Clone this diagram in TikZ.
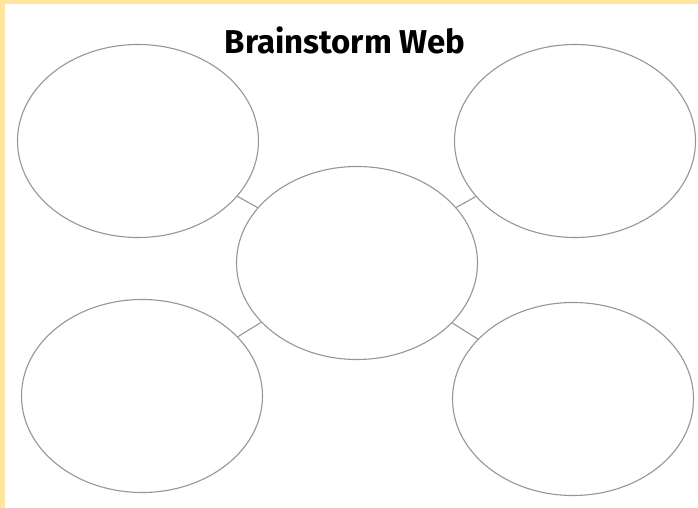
\documentclass[tikz,border=0pt]{standalone}
\usepackage{fontspec}
\setsansfont{Fira Sans}
\usepackage{tikz}
\usetikzlibrary{shapes.geometric}
\definecolor{paperY}{RGB}{255,229,160}
\definecolor{rimG}{RGB}{150,150,150}

\begin{document}
\begin{tikzpicture}[x=1pt, y=-1pt,
  bub/.style={ellipse, draw=rimG, line width=1.1pt,
              minimum width=241pt, minimum height=193pt, inner sep=0pt},
  link/.style={draw=rimG, line width=1.1pt}]
  % page and yellow edge
  \fill[white] (0,0) rectangle (698,508);
  \fill[paperY] (0,0) rectangle (5,508);
  \fill[paperY] (0,0) rectangle (698,4);
  \useasboundingbox (0,0) rectangle (698,508);
  \node[font=\sffamily\bfseries\fontsize{33}{38}\selectfont] (title) at (345,40) {Brainstorm Web};
  \node[bub] (mid) at (357,263) {};
  \node[bub] (nw) at (138,141) {};
  \node[bub] (ne) at (575,141) {};
  \node[bub] (sw) at (142,396) {};
  \node[bub] (se) at (573,399) {};
  \draw[link] (nw) -- (mid);
  \draw[link] (ne) -- (mid);
  \draw[link] (sw) -- (mid);
  \draw[link] (se) -- (mid);
\end{tikzpicture}
\end{document}
